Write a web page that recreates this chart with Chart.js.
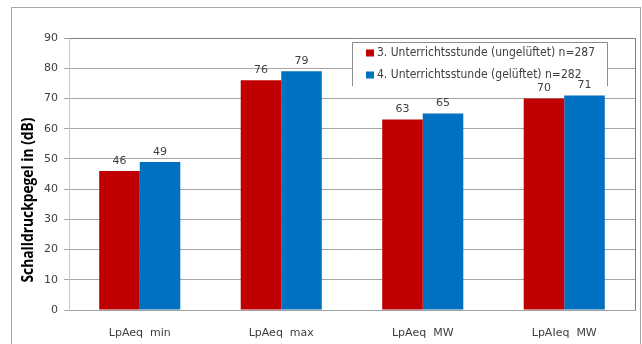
<!DOCTYPE html>
<html>
<head>
<meta charset="utf-8">
<script src="https://cdn.jsdelivr.net/npm/chart.js@4/dist/chart.umd.min.js"></script>
<style>
  html, body { margin: 0; padding: 0; background: #fff; }
  #wrap { width: 642px; height: 344px; position: relative; }
</style>
</head>
<body>
<div id="wrap"><canvas id="c" width="642" height="344"></canvas></div>
<script>
// Sound pressure levels per lesson hour
const categories = ['LpAeq  min', 'LpAeq  max', 'LpAeq  MW', 'LpAIeq  MW'];
const seriesNames = ['3. Unterrichtsstunde (ungelüftet) n=287', '4. Unterrichtsstunde (gelüftet) n=282'];
const unventilated = [46, 76, 63, 70];
const ventilated = [49, 79, 65, 71];
const yTicks = [0, 10, 20, 30, 40, 50, 60, 70, 80, 90];
const yTitle = 'Schalldruckpegel in (dB)';

const RED = '#C00000';
const BLUE = '#0070C0';
const TICK_FONT = { family: 'DejaVu Sans', size: 11 };

// Outer frame, plot border, y-axis title
const framePlugin = {
  id: 'frame',
  beforeDraw(chart) {
    const { ctx } = chart;
    ctx.save();
    ctx.strokeStyle = '#A6A6A6';
    ctx.lineWidth = 1;
    ctx.strokeRect(11.5, 7.5, 629, 400);
    ctx.restore();
  },
  afterDraw(chart) {
    const { ctx, chartArea: a } = chart;
    ctx.save();
    ctx.strokeStyle = '#7F7F7F';
    ctx.lineWidth = 1;
    ctx.beginPath();
    ctx.moveTo(Math.round(a.left) + 0.5, Math.round(a.top) + 0.5);
    ctx.lineTo(Math.round(a.right) + 0.5, Math.round(a.top) + 0.5);
    ctx.lineTo(Math.round(a.right) + 0.5, Math.round(a.bottom) + 0.5);
    ctx.stroke();
    // axis title
    ctx.translate(28, 200);
    ctx.rotate(-Math.PI / 2);
    ctx.fillStyle = '#000';
    ctx.font = 'bold 16px "Open Sans", sans-serif';
    ctx.textAlign = 'center';
    ctx.textBaseline = 'middle';
    ctx.fillText(yTitle, 0, 0, 165);
    ctx.restore();
  }
};

// Boxed legend inside the plot area (drawn under the value labels)
const boxLegend = {
  id: 'boxLegend',
  beforeDatasetsDraw(chart) {
    const { ctx } = chart;
    const x0 = 352, y0 = 42, w = 255, h = 44;
    ctx.save();
    ctx.fillStyle = '#fff';
    ctx.fillRect(x0, y0, w, h);
    ctx.strokeStyle = '#8C8C8C';
    ctx.lineWidth = 1;
    ctx.beginPath();
    ctx.moveTo(x0 + 0.5, y0 + h);
    ctx.lineTo(x0 + 0.5, y0 + 0.5);
    ctx.lineTo(x0 + w + 0.5, y0 + 0.5);
    ctx.lineTo(x0 + w + 0.5, y0 + h);
    ctx.stroke();
    ctx.font = '12px "DejaVu Sans Condensed", "DejaVu Sans", sans-serif';
    ctx.textBaseline = 'middle';
    ctx.textAlign = 'left';
    chart.data.datasets.forEach((ds, i) => {
      const cy = 53 + i * 22;
      ctx.fillStyle = ds.backgroundColor;
      ctx.fillRect(x0 + 14, cy - 3.5, 8, 7);
      ctx.fillStyle = '#404040';
      ctx.fillText(ds.label, x0 + 25, cy, 218);
    });
    ctx.restore();
  }
};

// Value labels above each bar
const valueLabels = {
  id: 'valueLabels',
  afterDatasetsDraw(chart) {
    const { ctx } = chart;
    ctx.save();
    ctx.font = '11px "DejaVu Sans"';
    ctx.fillStyle = '#404040';
    ctx.textAlign = 'center';
    ctx.textBaseline = 'middle';
    chart.data.datasets.forEach((ds, i) => {
      chart.getDatasetMeta(i).data.forEach((bar, j) => {
        ctx.fillText(String(ds.data[j]), bar.x, bar.y - 10);
      });
    });
    ctx.restore();
  }
};

new Chart(document.getElementById('c'), {
  type: 'bar',
  data: {
    labels: categories,
    datasets: [
      { label: seriesNames[0], data: unventilated, backgroundColor: RED },
      { label: seriesNames[1], data: ventilated, backgroundColor: BLUE }
    ]
  },
  options: {
    responsive: false,
    animation: false,
    devicePixelRatio: 1,
    layout: { padding: { left: 20, right: 7, top: 38, bottom: 0 } },
    datasets: { bar: { categoryPercentage: 0.573, barPercentage: 1.0 } },
    plugins: { legend: { display: false }, tooltip: { enabled: false } },
    scales: {
      x: {
        grid: { display: false },
        border: { color: '#A0A0A0' },
        ticks: { color: '#404040', font: TICK_FONT, padding: 9, maxRotation: 0 },
        afterFit(s) { s.height = 34; }
      },
      y: {
        min: 0, max: 90,
        afterBuildTicks(s) { s.ticks = yTicks.map(v => ({ value: v })); },
        grid: { color: '#A6A6A6', tickLength: 5 },
        border: { color: '#C8C8C8' },
        ticks: { color: '#404040', font: TICK_FONT, padding: 6 },
        afterFit(s) { s.width = 49; }
      }
    }
  },
  plugins: [framePlugin, boxLegend, valueLabels]
});
</script>
</body>
</html>
